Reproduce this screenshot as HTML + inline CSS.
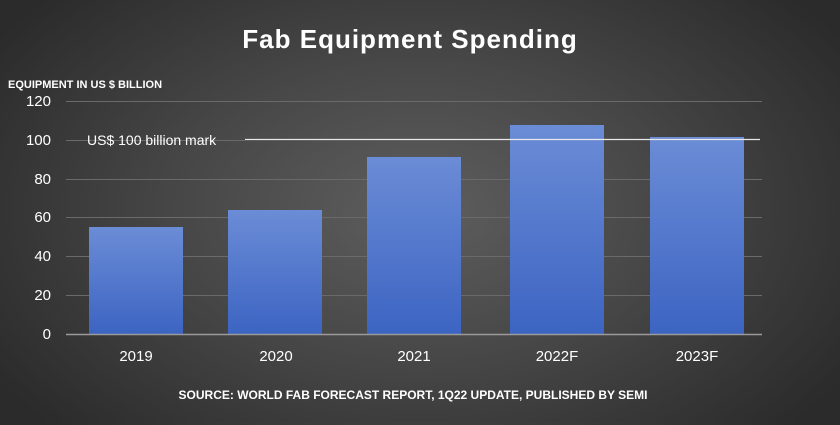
<!DOCTYPE html>
<html><head><style>
body{margin:0;width:840px;height:420px;overflow:hidden;background:radial-gradient(ellipse 60% 75% at 50% 50%,#5e5e5e 0%,#464646 50%,#2b2b2b 100%);font-family:"Liberation Sans",sans-serif;}
</style></head><body>
<svg width="840" height="420" xmlns="http://www.w3.org/2000/svg">
<defs><linearGradient id="g" x1="0" y1="0" x2="0" y2="1"><stop offset="0" stop-color="#6b8cd6"/><stop offset="1" stop-color="#3c64c2"/></linearGradient></defs>
<text x="410" y="48" fill="#fff" font-size="26" font-weight="bold" text-anchor="middle" letter-spacing="1">Fab Equipment Spending</text>
<text x="8" y="88" fill="#fff" font-size="11" font-weight="bold">EQUIPMENT IN US $ BILLION</text>
<g stroke="#6a6a6a" stroke-width="1">
<line x1="66" x2="762" y1="101.5" y2="101.5"/><line x1="66" x2="245" y1="140.5" y2="140.5"/>
<line x1="66" x2="762" y1="179.5" y2="179.5"/><line x1="66" x2="762" y1="217.5" y2="217.5"/>
<line x1="66" x2="762" y1="256.5" y2="256.5"/><line x1="66" x2="762" y1="295.5" y2="295.5"/>
</g>
<g fill="url(#g)">
<rect x="89" y="227" width="94" height="107"/>
<rect x="228" y="210" width="94" height="124"/>
<rect x="367" y="157" width="94" height="177"/>
<rect x="510" y="125" width="94" height="209"/>
<rect x="650" y="137" width="94" height="197"/>
</g>
<line x1="66" x2="762" y1="334.5" y2="334.5" stroke="#9a9a9a" stroke-width="1.5"/>
<line x1="245" x2="760" y1="139.5" y2="139.5" stroke="#e8e8e8" stroke-width="1.3"/>
<text x="87" y="145" fill="#fff" font-size="14">US$ 100 billion mark</text>
<g fill="#fff" font-size="15" text-anchor="end">
<text x="51" y="106">120</text><text x="51" y="145">100</text><text x="51" y="184">80</text>
<text x="51" y="222">60</text><text x="51" y="261">40</text><text x="51" y="300">20</text><text x="51" y="339">0</text></g>
<g fill="#fff" font-size="15" text-anchor="middle">
<text x="136" y="361">2019</text><text x="276" y="361">2020</text><text x="414" y="361">2021</text>
<text x="557" y="361">2022F</text><text x="697" y="361">2023F</text></g>
<text x="413" y="399" fill="#fff" font-size="12" font-weight="bold" text-anchor="middle">SOURCE: WORLD FAB FORECAST REPORT, 1Q22 UPDATE, PUBLISHED BY SEMI</text>
</svg>
</body></html>
